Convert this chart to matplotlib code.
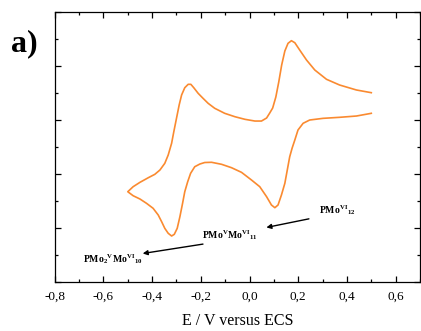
import matplotlib
matplotlib.use('Agg')
import matplotlib.pyplot as plt
from matplotlib.ticker import MultipleLocator, FuncFormatter

plt.rcParams['font.family'] = 'Liberation Serif'
plt.rcParams['mathtext.fontset'] = 'custom'
plt.rcParams['mathtext.rm'] = 'Liberation Serif:bold'
plt.rcParams['mathtext.bf'] = 'Liberation Serif:bold'
plt.rcParams['mathtext.it'] = 'Liberation Serif:bold'

# CV trace (potential in V vs ECS, current in arbitrary units)
# lower branch, from +0.5 V down to the -0.5 V vertex
e_lower = [0.500, 0.439, 0.370, 0.302, 0.247, 0.220, 0.199, 0.186, 0.175, 0.165,
           0.145, 0.131, 0.117, 0.104, 0.090, 0.070, 0.042, 0.008, -0.033, -0.074,
           -0.115, -0.156, -0.184, -0.204, -0.225, -0.242, -0.254, -0.266, -0.275,
           -0.286, -0.297, -0.309, -0.320, -0.334, -0.348, -0.361, -0.375, -0.396,
           -0.423, -0.450, -0.478, -0.500]
i_lower = [3.124, 3.074, 3.050, 3.031, 3.000, 2.939, 2.815, 2.630, 2.481, 2.320,
           1.828, 1.611, 1.426, 1.376, 1.426, 1.580, 1.765, 1.889, 2.031, 2.117,
           2.180, 2.217, 2.213, 2.185, 2.135, 2.013, 1.857, 1.672, 1.457,
           1.209, 0.994, 0.883, 0.852, 0.902, 0.994, 1.117, 1.241, 1.365,
           1.457, 1.537, 1.598, 1.672]
# upper branch, from the vertex back to +0.5 V
e_upper = [-0.500, -0.478, -0.450, -0.416, -0.389, -0.368, -0.348, -0.334, -0.320,
           -0.311, -0.300, -0.289, -0.279, -0.266, -0.252, -0.241, -0.229, -0.211,
           -0.191, -0.170, -0.143, -0.102, -0.060, -0.019, 0.022, 0.049, 0.070,
           0.083, 0.095, 0.108, 0.120, 0.132, 0.145, 0.158, 0.172, 0.186, 0.206,
           0.234, 0.268, 0.316, 0.370, 0.439, 0.500]
i_upper = [1.672, 1.765, 1.846, 1.931, 1.994, 2.074, 2.198, 2.352, 2.569,
           2.783, 3.031, 3.278, 3.463, 3.598, 3.661, 3.661, 3.598, 3.494,
           3.402, 3.309, 3.217, 3.124, 3.061, 3.013, 2.981, 2.981, 3.037,
           3.130, 3.222, 3.426, 3.704, 4.019, 4.278, 4.420, 4.469, 4.431, 4.296,
           4.111, 3.926, 3.754, 3.648, 3.556, 3.506]

species = [r'$\mathbf{PMo^{VI}{}_{12}}$',
           r'$\mathbf{PMo^{V}Mo^{VI}{}_{11}}$',
           r'$\mathbf{PMo_{2}{}^{V}Mo^{VI}{}_{10}}$']

fig = plt.figure(figsize=(4.21, 3.31), dpi=100)
ax = fig.add_axes([0.13, 0.148, 0.8676, 0.8157])

ax.plot(e_lower + e_upper[1:], i_lower + i_upper[1:], color='#fa8a30', lw=1.2)

ax.set_xlim(-0.8, 0.7)
ax.set_ylim(0, 5)
ax.xaxis.set_major_locator(MultipleLocator(0.2))
ax.xaxis.set_minor_locator(MultipleLocator(0.1))
ax.yaxis.set_major_locator(MultipleLocator(1))
ax.yaxis.set_minor_locator(MultipleLocator(0.5))
ax.xaxis.set_major_formatter(FuncFormatter(lambda v, p: f'{v:.1f}'.replace('.', ',').replace('-0,0', '0,0')))
ax.tick_params(which='both', direction='in', top=True, right=True, width=0.9)
ax.tick_params(which='major', length=4, labelsize=9.5, pad=6.5)
ax.tick_params(which='minor', length=2.5)
ax.tick_params(axis='y', labelleft=False)
for s in ax.spines.values():
    s.set_linewidth(0.9)

ax.set_xlabel('E / V versus ECS', fontsize=11.5)
ax.xaxis.set_label_coords(0.5, -0.115)

# species labels with arrows
ax.annotate('', xy=(0.058, 1.0), xytext=(0.255, 1.18),
            arrowprops=dict(arrowstyle='-|>', color='k', lw=1, mutation_scale=7))
ax.text(0.36, 1.33, species[0], fontsize=7, ha='center', va='center')
ax.annotate('', xy=(-0.45, 0.52), xytext=(-0.18, 0.71),
            arrowprops=dict(arrowstyle='-|>', color='k', lw=1, mutation_scale=7))
ax.text(-0.08, 0.87, species[1], fontsize=7, ha='center', va='center')
ax.text(-0.56, 0.43, species[2], fontsize=7, ha='center', va='center')

fig.text(0.026, 0.846, 'a)', fontsize=23, fontweight='bold', va='baseline')

plt.savefig('out.png', dpi=100)
